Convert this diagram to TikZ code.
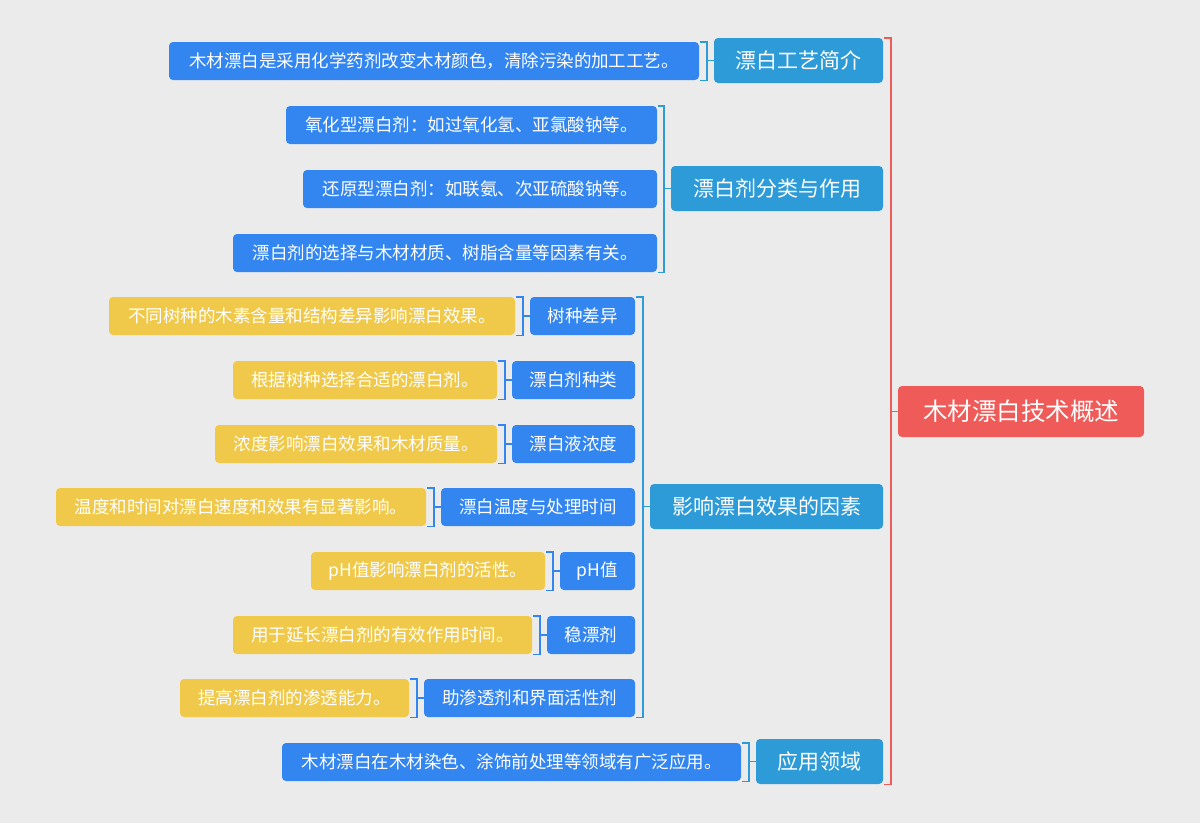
\documentclass[tikz,border=0pt]{standalone}
\usepackage{fontspec}
\setmainfont{Noto Sans CJK SC}
\usetikzlibrary{calc}
\definecolor{bg}{HTML}{EBEBEB}
\definecolor{rootc}{HTML}{EF5B58}
\definecolor{lonec}{HTML}{2D9BD8}
\definecolor{ltwoc}{HTML}{3385F0}
\definecolor{yelc}{HTML}{F0C94A}
\tikzset{
  box/.style={rounded corners=4pt, inner sep=0pt, text=white, align=center},
  rootbox/.style={box, fill=rootc, minimum height=51pt, font=\fontsize{24.5}{28}\selectfont},
  lone/.style={box, fill=lonec, minimum height=45pt, font=\fontsize{21}{25}\selectfont},
  ltwo/.style={box, fill=ltwoc, minimum height=38pt, font=\fontsize{17.5}{21}\selectfont},
  yel/.style={box, fill=yelc, minimum height=38pt, font=\fontsize{17.5}{21}\selectfont},
  br/.style={line width=1.4pt},
}
\newcommand{\bracket}[4]{% color, parent, top child, bottom child
  \draw[br,#1] ([xshift=1pt]#3.north east) -| ([xshift=-7pt]#2.west) |- ([xshift=1pt]#4.south east);
  \draw[br,#1] ([xshift=-7pt]#2.west) -- (#2.west);
}
\begin{document}
\begin{tikzpicture}[x=1pt,y=-1pt]
\fill[bg] (0,0) rectangle (1200,823);
\useasboundingbox (0,0) rectangle (1200,823);

\node[rootbox, minimum width=246pt] (root) at (1021,411.5) {木材漂白技术概述};

\node[lone, minimum width=169pt] (A) at (798.5,60.5) {漂白工艺简介};
\node[lone, minimum width=212pt] (B) at (777,188.5) {漂白剂分类与作用};
\node[lone, minimum width=233pt] (C) at (766.5,506.5) {影响漂白效果的因素};
\node[lone, minimum width=127pt] (D) at (819.5,761.5) {应用领域};

\node[ltwo, minimum width=530pt] (a1) at (434,61) {木材漂白是采用化学药剂改变木材颜色，清除污染的加工工艺。};
\node[ltwo, minimum width=371pt] (b1) at (471.5,125) {氧化型漂白剂：如过氧化氢、亚氯酸钠等。};
\node[ltwo, minimum width=354pt] (b2) at (480,189) {还原型漂白剂：如联氨、次亚硫酸钠等。};
\node[ltwo, minimum width=424pt] (b3) at (445,253) {漂白剂的选择与木材材质、树脂含量等因素有关。};
\node[ltwo, minimum width=105pt] (c1) at (582.5,316) {树种差异};
\node[ltwo, minimum width=123pt] (c2) at (573.5,380) {漂白剂种类};
\node[ltwo, minimum width=123pt] (c3) at (573.5,444) {漂白液浓度};
\node[ltwo, minimum width=194pt] (c4) at (538,507) {漂白温度与处理时间};
\node[ltwo, minimum width=75pt] (c5) at (597.5,571) {pH值};
\node[ltwo, minimum width=88pt] (c6) at (591,635) {稳漂剂};
\node[ltwo, minimum width=211pt] (c7) at (529.5,698) {助渗透剂和界面活性剂};
\node[ltwo, minimum width=459pt] (d1) at (511.5,762) {木材漂白在木材染色、涂饰前处理等领域有广泛应用。};

\node[yel, minimum width=406pt] (y1) at (312,316) {不同树种的木素含量和结构差异影响漂白效果。};
\node[yel, minimum width=264pt] (y2) at (365,380) {根据树种选择合适的漂白剂。};
\node[yel, minimum width=282pt] (y3) at (356,444) {浓度影响漂白效果和木材质量。};
\node[yel, minimum width=370pt] (y4) at (241,507) {温度和时间对漂白速度和效果有显著影响。};
\node[yel, minimum width=234pt] (y5) at (428,571) {pH值影响漂白剂的活性。};
\node[yel, minimum width=299pt] (y6) at (382.5,635) {用于延长漂白剂的有效作用时间。};
\node[yel, minimum width=229pt] (y7) at (294.5,698) {提高漂白剂的渗透能力。};

\bracket{rootc}{root}{A}{D}
\bracket{lonec}{A}{a1}{a1}
\bracket{lonec}{B}{b1}{b3}
\bracket{lonec}{C}{c1}{c7}
\bracket{lonec}{D}{d1}{d1}
\bracket{ltwoc}{c1}{y1}{y1}
\bracket{ltwoc}{c2}{y2}{y2}
\bracket{ltwoc}{c3}{y3}{y3}
\bracket{ltwoc}{c4}{y4}{y4}
\bracket{ltwoc}{c5}{y5}{y5}
\bracket{ltwoc}{c6}{y6}{y6}
\bracket{ltwoc}{c7}{y7}{y7}
\end{tikzpicture}
\end{document}
